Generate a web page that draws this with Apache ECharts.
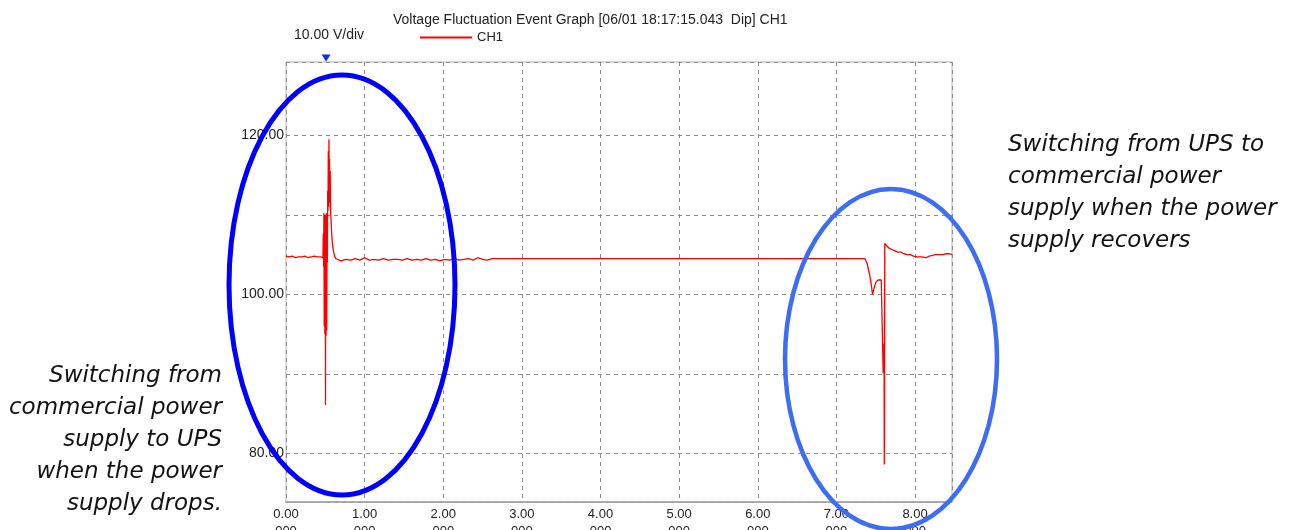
<!DOCTYPE html>
<html>
<head>
<meta charset="utf-8">
<script src="https://cdn.jsdelivr.net/npm/echarts@6/dist/echarts.min.js"></script>
<style>
  html, body { margin: 0; padding: 0; background: #fff; }
  #main { width: 1299px; height: 530px; }
</style>
</head>
<body>
<div id="main"></div>
<script>
// time (s) and CH1 voltage (V)
var timeSec = [
    0.00, 0.04, 0.08, 0.12, 0.16, 0.20, 0.24, 0.28, 0.32, 0.36, 0.40, 0.44, 0.47,
    0.474, 0.478, 0.482, 0.486, 0.490, 0.494, 0.498, 0.502, 0.506, 0.510, 0.514, 0.518,
    0.522, 0.526, 0.530, 0.534, 0.538, 0.542, 0.546, 0.550, 0.554, 0.558, 0.562, 0.566,
    0.572, 0.580, 0.590, 0.600, 0.615, 0.630, 0.650,
    0.70, 0.76, 0.82, 0.88, 0.94, 1.00, 1.06, 1.12, 1.18, 1.24, 1.30, 1.36, 1.42, 1.48,
    1.54, 1.60, 1.66, 1.72, 1.78, 1.84, 1.90, 1.96, 2.02, 2.08, 2.14, 2.20, 2.26, 2.32,
    2.38, 2.44, 2.50, 2.56, 2.62, 2.68,
    7.36, 7.39, 7.42, 7.44, 7.46, 7.48, 7.50, 7.53, 7.57, 7.59,
    7.595, 7.600, 7.603, 7.606, 7.609, 7.615,
    7.64, 7.67, 7.71, 7.74, 7.78, 7.82, 7.86, 7.90, 7.94, 7.98, 8.03, 8.08, 8.14, 8.18,
    8.22, 8.26, 8.30, 8.35, 8.40, 8.44, 8.47
];
var voltage = [
    104.8, 104.7, 104.8, 104.6, 104.7, 104.7, 104.8, 104.6, 104.7, 104.8, 104.7, 104.7, 104.6,
    107.6, 103.5, 110.2, 96.0, 109.5, 95.0, 110.0, 86.1, 109.0, 94.8, 110.2, 95.5,
    108.0, 104.0, 113.0, 110.5, 118.0, 111.0, 119.5, 112.0, 117.0, 111.5, 115.5, 110.5,
    109.5, 107.8, 106.4, 105.6, 104.9, 104.5, 104.3,
    104.2, 104.4, 104.3, 104.5, 104.3, 104.6, 104.3, 104.4, 104.3, 104.5, 104.3, 104.4, 104.4, 104.3,
    104.5, 104.3, 104.4, 104.3, 104.5, 104.3, 104.4, 104.2, 104.4, 104.3, 104.5, 104.3, 104.4, 104.5,
    104.3, 104.6, 104.4, 104.3, 104.5, 104.5,
    104.5, 103.9, 102.6, 101.4, 100.0, 100.8, 101.5, 101.8, 101.8, 101.6,
    90.1, 93.8, 90.5, 93.5, 78.6, 106.4,
    106.1, 105.8, 105.6, 105.5, 105.3, 105.3, 105.1, 105.0, 105.0, 104.8, 104.7, 104.7, 104.6, 104.8,
    104.9, 105.0, 105.0, 105.0, 105.1, 105.1, 105.0
];

var xMin = 0, xMax = 8.47;
var yMin = 73.9, yMax = 129.2;
var triggerTime = 0.51;

var seriesData = [];
for (var i = 0; i < timeSec.length; i++) {
    seriesData.push([timeSec[i], voltage[i]]);
}

var myChart = echarts.init(document.getElementById('main'));

var uiFont = 'Liberation Sans';
var noteFont = 'italic 23px "DejaVu Sans"';

var option = {
    animation: false,
    title: {
        text: 'Voltage Fluctuation Event Graph [06/01 18:17:15.043  Dip] CH1',
        left: 388,
        top: 8,
        textStyle: { fontFamily: uiFont, fontSize: 14, fontWeight: 'normal', color: '#222' }
    },
    legend: {
        left: 415,
        top: 26,
        itemWidth: 52,
        itemHeight: 2,
        icon: 'rect',
        data: ['CH1'],
        textStyle: { fontFamily: uiFont, fontSize: 13, color: '#222' }
    },
    grid: {
        left: 286, top: 62, width: 666, height: 440,
        outerBoundsMode: 'none',
        containLabel: false,
        show: true, borderColor: '#b4b4b4', borderWidth: 1
    },
    xAxis: {
        type: 'value',
        min: xMin,
        max: xMax,
        interval: 1,
        axisLine: { lineStyle: { color: '#a0a0a0', width: 1.5 } },
        axisTick: { show: false },
        axisLabel: {
            showMaxLabel: false,
            margin: 4,
            fontFamily: uiFont, fontSize: 13, color: '#222', lineHeight: 17,
            formatter: function (v) { return v.toFixed(2) + '\n000'; }
        },
        splitLine: { lineStyle: { color: '#8c8c8c', type: [4, 4] } }
    },
    yAxis: {
        type: 'value',
        min: yMin,
        max: yMax,
        minInterval: 10,
        maxInterval: 10,
        axisLine: { show: false },
        axisTick: { show: false },
        axisLabel: {
            showMinLabel: false,
            showMaxLabel: false,
            margin: 2,
            fontFamily: uiFont, fontSize: 14, color: '#222',
            formatter: function (v) { return v % 20 === 0 ? v.toFixed(2) : ''; }
        },
        splitLine: { lineStyle: { color: '#8c8c8c', type: [4, 4] } }
    },
    series: [
        {
            name: 'CH1',
            type: 'line',
            data: seriesData,
            showSymbol: false,
            color: '#ff0000',
            lineStyle: { width: 1.3, color: '#ff0000' },
            markPoint: {
                silent: true,
                label: { show: false },
                data: [{
                    coord: [triggerTime, yMax],
                    symbol: 'triangle',
                    symbolRotate: 180,
                    symbolSize: [9, 7],
                    symbolOffset: [0, -4],
                    itemStyle: { color: '#1030e0' }
                }]
            }
        }
    ],
    graphic: [
        {
            type: 'text', left: 294, top: 28,
            style: { text: '10.00 V/div', font: '14px "Liberation Sans"', fill: '#222' }
        },
        {
            type: 'ellipse', z: 100,
            shape: { cx: 342, cy: 285, rx: 113, ry: 210 },
            style: { fill: 'none', stroke: '#0000ff', lineWidth: 5 }
        },
        {
            type: 'ellipse', z: 100,
            shape: { cx: 891, cy: 359, rx: 106, ry: 170 },
            style: { fill: 'none', stroke: '#3d6cf5', lineWidth: 4.5 }
        },
        {
            type: 'text', x: 1008, y: 129, z: 100,
            style: {
                text: 'Switching from UPS to\ncommercial power\nsupply when the power\nsupply recovers',
                font: noteFont, fill: '#111', lineHeight: 32, align: 'left'
            }
        },
        {
            type: 'text', x: 222, y: 360, z: 100,
            style: {
                text: 'Switching from\ncommercial power\nsupply to UPS\nwhen the power\nsupply drops.',
                font: noteFont, fill: '#111', lineHeight: 32, align: 'right'
            }
        }
    ]
};

myChart.setOption(option);
</script>
</body>
</html>
